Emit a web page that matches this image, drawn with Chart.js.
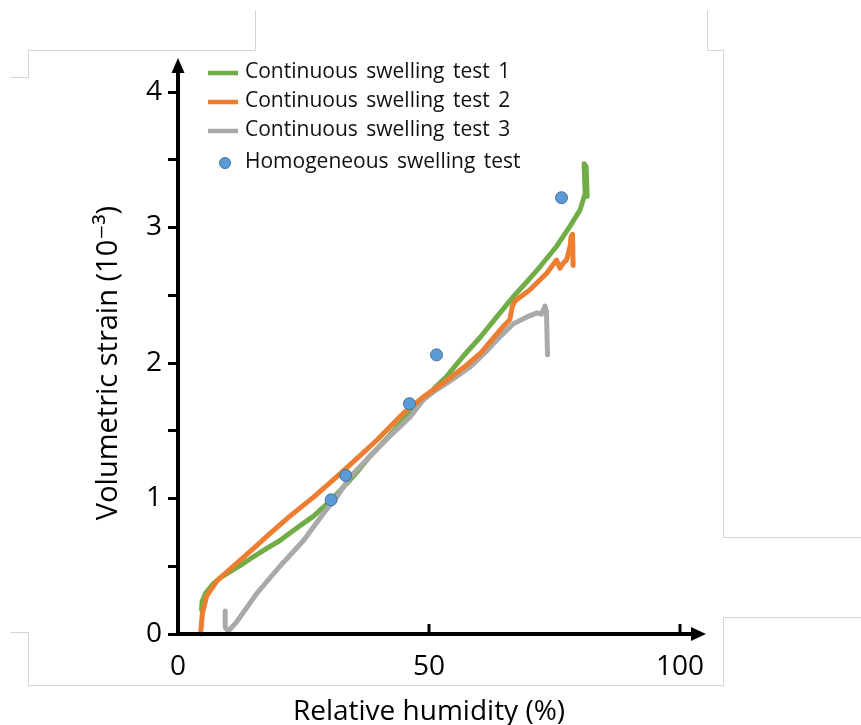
<!DOCTYPE html>
<html>
<head>
<meta charset="utf-8">
<script src="https://cdn.jsdelivr.net/npm/chart.js@4/dist/chart.umd.min.js"></script>
<style>
html,body{margin:0;padding:0;background:#fff;}
#c{display:block;}
</style>
</head>
<body>
<canvas id="c" width="861" height="725"></canvas>
<script>
// ---- data ----
const seriesLabels = ['Continuous swelling test 1','Continuous swelling test 2','Continuous swelling test 3','Homogeneous swelling test'];

const test1Humidity = [4.7,4.8,5.5,7.0,8.6,10.4,12.6,15.0,17.6,20.3,23.6,27.0,30.3,33.6,36.0,38.2,41.5,44.9,47.0,49.5,51.5,53.5,56.8,60.2,63.5,66.8,69.5,72.1,75.4,78.1,80.1,81.1,80.9,81.3,81.5];
const test1Strain   = [0.18,0.24,0.30,0.37,0.42,0.46,0.51,0.57,0.63,0.69,0.78,0.87,0.98,1.11,1.21,1.31,1.44,1.58,1.67,1.75,1.83,1.90,2.05,2.19,2.34,2.49,2.60,2.71,2.86,3.01,3.13,3.25,3.47,3.45,3.23];

const test2Humidity = [4.5,4.85,5.7,7.7,11.0,15.0,18.3,22.3,27.0,31.6,34.9,39.6,44.9,48.9,53.5,57.0,60.2,62.5,64.8,66.1,66.6,67.2,70.1,73.4,75.4,76.1,76.8,77.4,78.1,78.3,78.6,78.7];
const test2Strain   = [0.0,0.15,0.28,0.39,0.50,0.63,0.74,0.87,1.01,1.16,1.27,1.43,1.63,1.75,1.87,1.97,2.07,2.17,2.27,2.32,2.42,2.46,2.54,2.66,2.76,2.70,2.74,2.76,2.86,2.93,2.95,2.72];

const test3Humidity = [9.4,9.4,10.0,11.7,15.7,20.3,25.0,29.6,31.6,34.3,38.2,42.2,46.2,48.9,51.0,53.5,58.2,61.0,63.5,66.8,69.5,71.5,72.4,73.1,73.4,73.6];
const test3Strain   = [0.17,0.05,0.02,0.09,0.30,0.50,0.69,0.92,1.01,1.16,1.31,1.46,1.60,1.73,1.79,1.85,1.97,2.07,2.17,2.29,2.34,2.37,2.36,2.42,2.38,2.06];

const homogHumidity = [30.5,33.4,46.1,51.5,76.4];
const homogStrain   = [0.99,1.17,1.70,2.06,3.22];

const xTickLabels = [0,50,100];
const yTickLabels = [0,1,2,3,4];
const xAxisTitle = 'Relative humidity (%)';
const yAxisTitle = 'Volumetric strain (10\u207B\u00B3)';

// ---- build ----
const pts = (xs, ys) => xs.map((x, i) => ({x: x, y: ys[i]}));
const FONT = "'Open Sans', 'DejaVu Sans', sans-serif";

function lineSet(label, xs, ys, color, order) {
  return {
    label: label, data: pts(xs, ys), borderColor: color, backgroundColor: color,
    borderWidth: 5, pointRadius: 0, pointHoverRadius: 0, tension: 0,
    borderCapStyle: 'round', borderJoinStyle: 'round', fill: false, order: order, clip: false
  };
}

const datasets = [
  lineSet(seriesLabels[0], test1Humidity, test1Strain, '#70AD47', 3),
  lineSet(seriesLabels[1], test2Humidity, test2Strain, '#ED7D31', 1),
  lineSet(seriesLabels[2], test3Humidity, test3Strain, '#A9A9A9', 2),
  {
    label: seriesLabels[3], data: pts(homogHumidity, homogStrain), showLine: false,
    pointRadius: 6, pointBackgroundColor: '#5B9BD5', pointBorderColor: '#41719C',
    pointBorderWidth: 1, backgroundColor: '#5B9BD5', borderColor: '#41719C', order: 0, clip: false
  }
];

const decoPlugin = {
  id: 'deco',
  beforeDraw(chart) {
    const ctx = chart.ctx;
    ctx.save();
    ctx.strokeStyle = '#d4d4d4';
    ctx.lineWidth = 1;
    const segs = [
      [255,10,255,50],[28,50,255,50],[28,50,28,77],[10,77,28,77],
      [707,10,707,50],[707,50,723,50],[723,50,723,537],[723,537,861,537],
      [723,617,861,617],[723,617,723,685],[28,685,723,685],[28,632,28,685],[10,632,28,632]
    ];
    ctx.beginPath();
    segs.forEach(s => { ctx.moveTo(s[0]+0.5, s[1]+0.5); ctx.lineTo(s[2]+0.5, s[3]+0.5); });
    ctx.stroke();
    ctx.restore();
  },
  afterDraw(chart) {
    const ctx = chart.ctx;
    const xs = chart.scales.x, ys = chart.scales.y;
    const x0 = xs.getPixelForValue(0), y0 = ys.getPixelForValue(0);
    const yTop = ys.getPixelForValue(4);
    const xRight = xs.getPixelForValue(100);
    ctx.save();
    ctx.strokeStyle = '#000'; ctx.fillStyle = '#000';
    ctx.lineWidth = 4; ctx.lineCap = 'butt';
    // y axis
    ctx.beginPath(); ctx.moveTo(x0, y0 + 2); ctx.lineTo(x0, yTop - 22); ctx.stroke();
    ctx.beginPath(); ctx.moveTo(x0, yTop - 34); ctx.lineTo(x0 - 6.5, yTop - 19); ctx.lineTo(x0 + 6.5, yTop - 19); ctx.closePath(); ctx.fill();
    // x axis
    ctx.beginPath(); ctx.moveTo(x0 - 2, y0); ctx.lineTo(xRight + 12, y0); ctx.stroke();
    ctx.beginPath(); ctx.moveTo(xRight + 26, y0); ctx.lineTo(xRight + 11, y0 - 7); ctx.lineTo(xRight + 11, y0 + 7); ctx.closePath(); ctx.fill();
    // x inner ticks
    ctx.lineWidth = 3;
    xTickLabels.forEach(v => {
      if (v === 0) return;
      const px = xs.getPixelForValue(v);
      ctx.beginPath(); ctx.moveTo(px, y0 - 10); ctx.lineTo(px, y0); ctx.stroke();
    });
    // legend
    const rows = [73, 102, 131, 163];
    ctx.font = '21px ' + FONT;
    ctx.textBaseline = 'middle'; ctx.textAlign = 'left';
    try { ctx.wordSpacing = '3px'; } catch (e) {}
    chart.data.datasets.forEach((ds, i) => {
      const y = rows[i];
      if (ds.showLine === false) {
        ctx.beginPath(); ctx.arc(225, y, 5.5, 0, Math.PI * 2);
        ctx.fillStyle = ds.pointBackgroundColor; ctx.fill();
        ctx.lineWidth = 1; ctx.strokeStyle = ds.pointBorderColor; ctx.stroke();
      } else {
        ctx.beginPath(); ctx.moveTo(208, y); ctx.lineTo(238, y);
        ctx.lineWidth = 4.5; ctx.strokeStyle = ds.borderColor; ctx.stroke();
      }
      ctx.fillStyle = '#111';
      ctx.fillText(ds.label, 245, y - 1);
    });
    ctx.restore();
  }
};

new Chart(document.getElementById('c'), {
  type: 'line',
  data: { datasets: datasets },
  options: {
    responsive: false, animation: false, devicePixelRatio: 1,
    layout: { padding: { left: 0, top: 92, right: 181, bottom: 0 } },
    plugins: { legend: { display: false }, tooltip: { enabled: false } },
    scales: {
      x: {
        type: 'linear', min: 0, max: 100,
        afterFit(s) { s.height = 91; },
        afterBuildTicks(s) { s.ticks = xTickLabels.map(v => ({value: v})); },
        grid: { display: false, drawTicks: false },
        border: { display: false },
        ticks: { color: '#000', font: { family: FONT, size: 28 }, padding: 16, maxRotation: 0, autoSkip: false },
        title: { display: true, text: xAxisTitle, color: '#000', font: { family: FONT, size: 28, lineHeight: 1 }, padding: { top: 0, bottom: -1 } }
      },
      y: {
        type: 'linear', min: 0, max: 4,
        afterFit(s) { s.width = 178; },
        ticks: {
          stepSize: 0.5, color: '#000', font: { family: FONT, size: 28 }, padding: 6, autoSkip: false,
          callback: v => (yTickLabels.includes(v) ? String(v) : '')
        },
        grid: { display: true, drawOnChartArea: false, drawTicks: true, tickLength: 10, tickWidth: 3, tickColor: '#000', color: '#000', lineWidth: 3 },
        border: { display: false },
        title: { display: true, text: yAxisTitle, color: '#000', font: { family: FONT, size: 29 }, padding: { top: 91, bottom: 0 } }
      }
    }
  },
  plugins: [decoPlugin]
});
</script>
</body>
</html>
